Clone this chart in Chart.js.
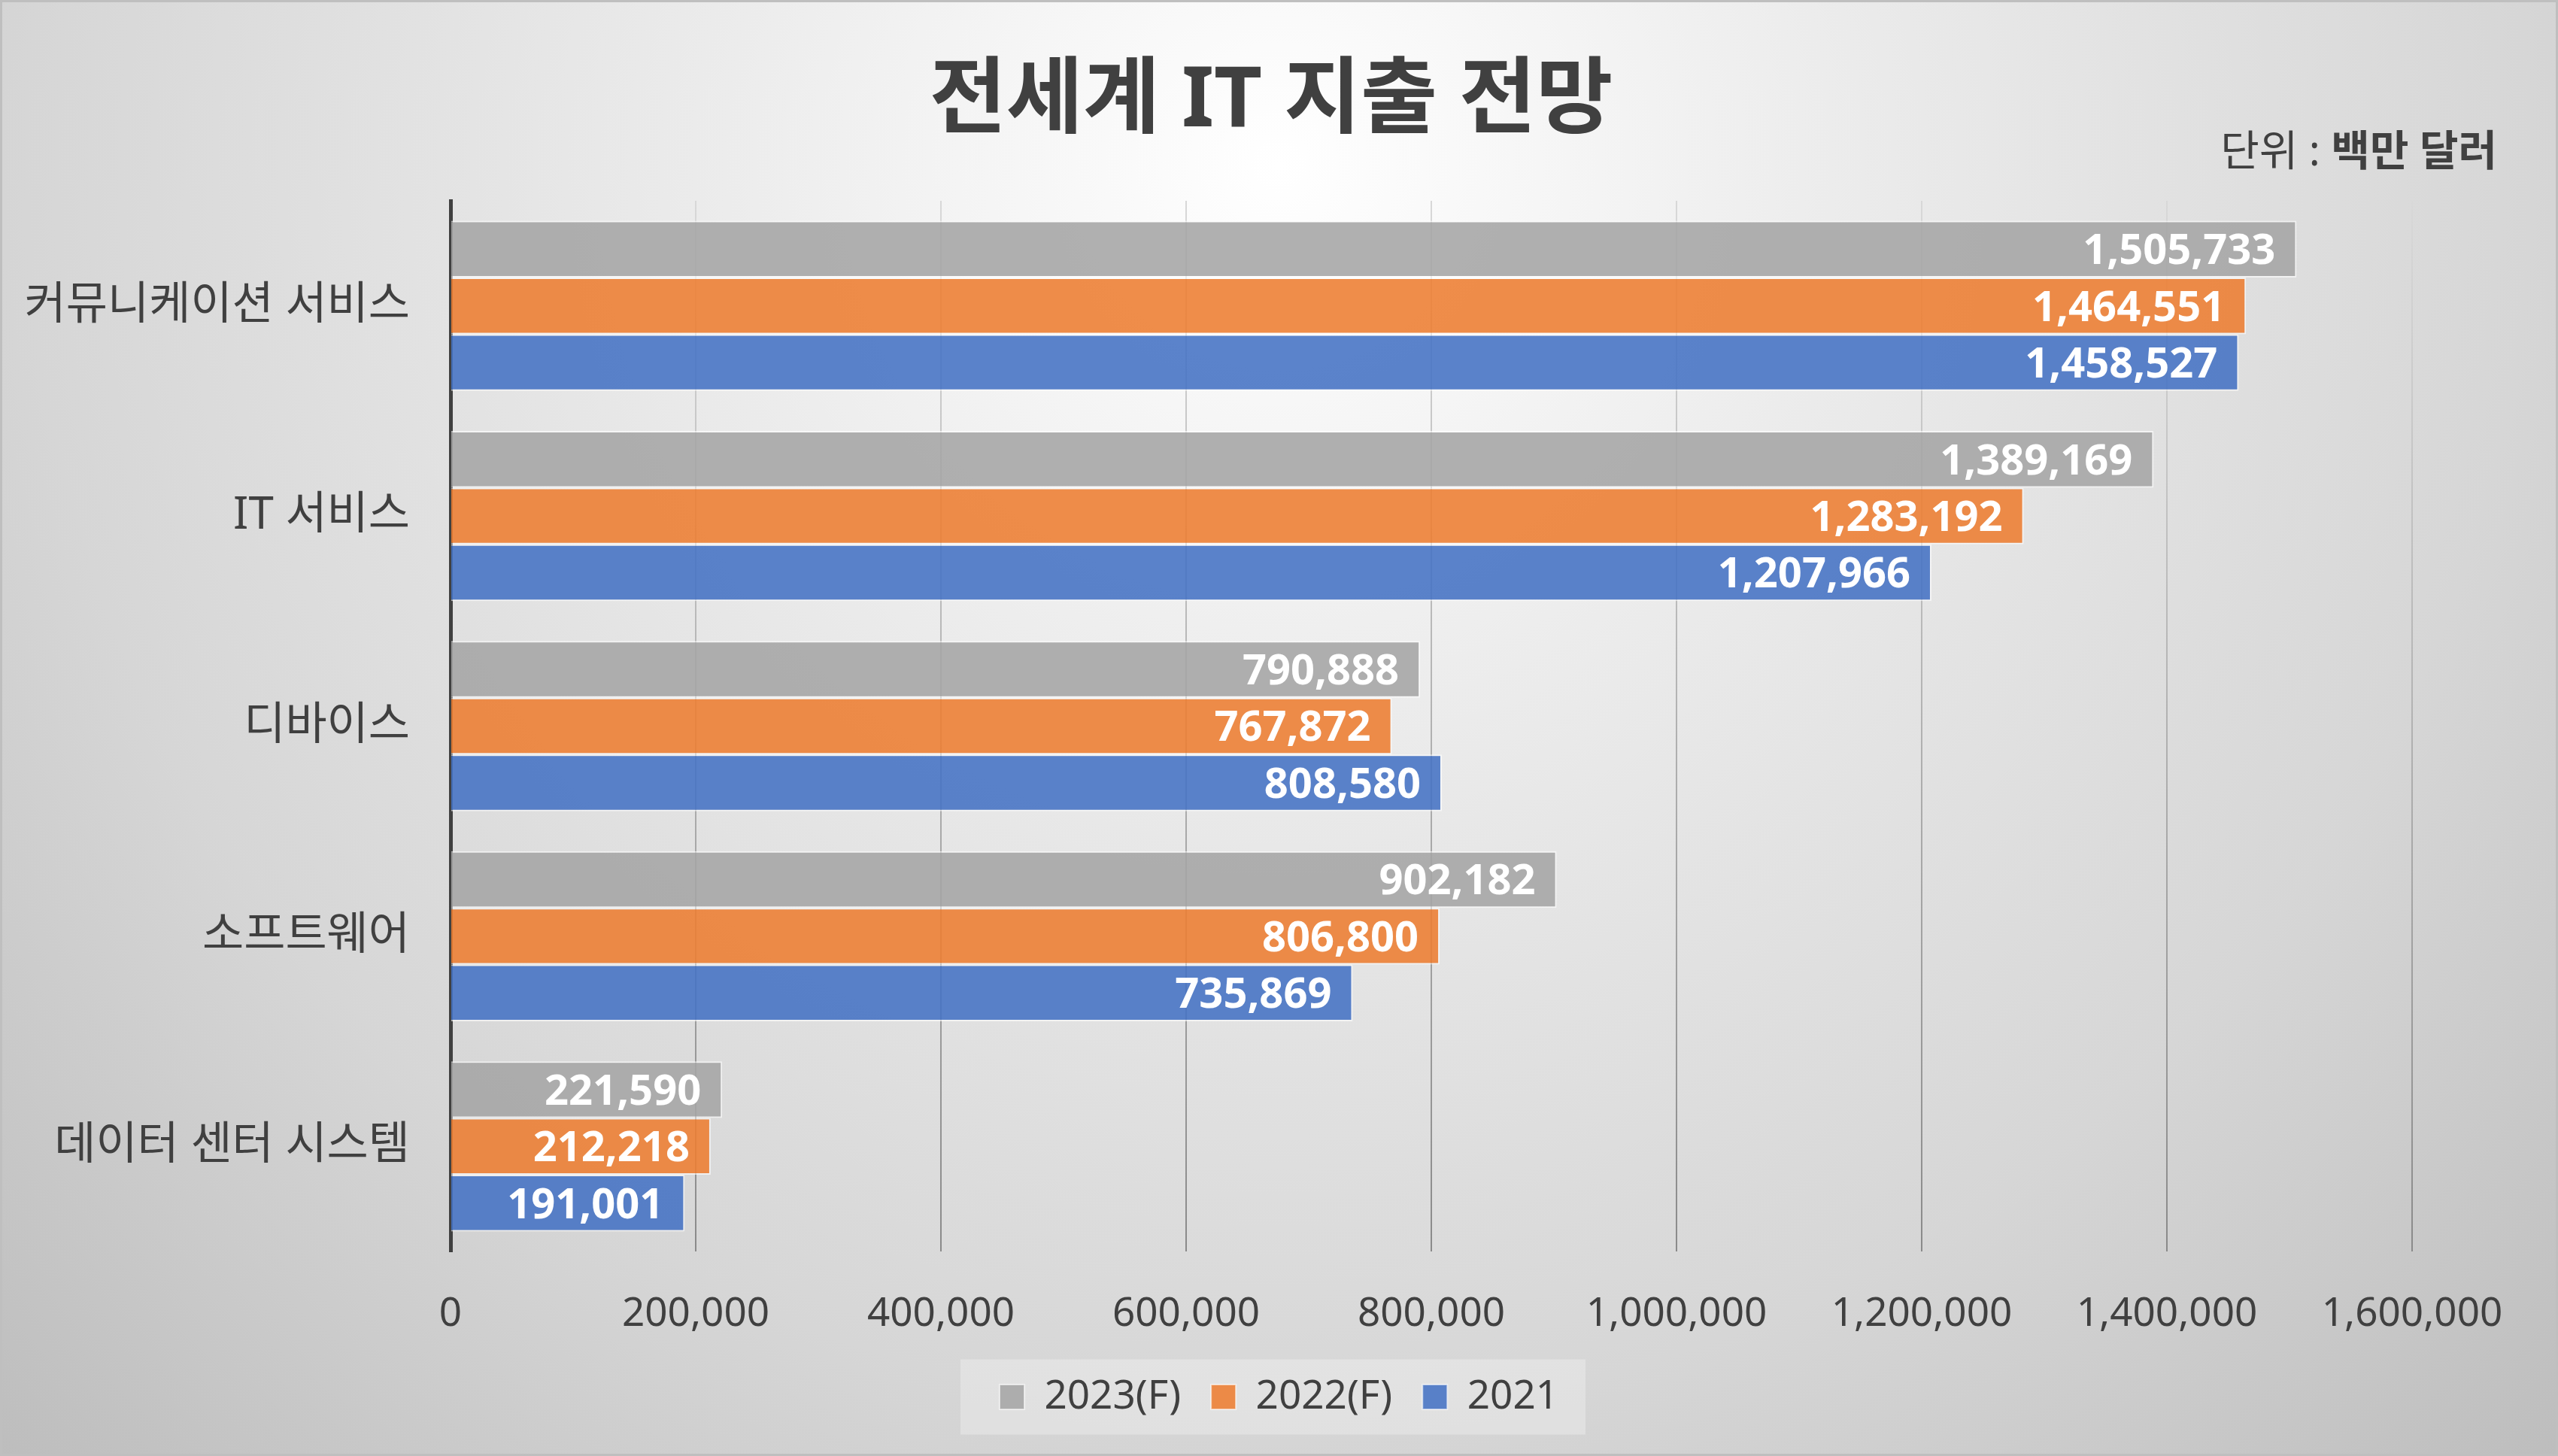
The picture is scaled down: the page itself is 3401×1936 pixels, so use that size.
<!DOCTYPE html>
<html lang="ko">
<head>
  <meta charset="UTF-8">
  <title>전세계 IT 지출 전망</title>
  <script src="https://cdn.jsdelivr.net/npm/chart.js"></script>
  <style>
    body {
      margin: 0;
      padding: 0;
      background: #ffffff;
    }
    #chartBox {
      width: 3401px;
      height: 1936px;
    }
  </style>
</head>
<body>
  <div id="chartBox">
    <canvas id="myChart" width="3401" height="1936"></canvas>
  </div>

  <script>
    const categories = ['커뮤니케이션 서비스', 'IT 서비스', '디바이스', '소프트웨어', '데이터 센터 시스템'];
    const seriesNames = ['2023(F)', '2022(F)', '2021'];
    const values2023 = [1505733, 1389169, 790888, 902182, 221590];
    const values2022 = [1464551, 1283192, 767872, 806800, 212218];
    const values2021 = [1458527, 1207966, 808580, 735869, 191001];
    const xTicks = [0, 200000, 400000, 600000, 800000, 1000000, 1200000, 1400000, 1600000];

    const FONT = '"Noto Sans", "Noto Sans CJK KR", sans-serif';
    const TEXT = '#404040';

    Chart.defaults.font.family = FONT;
    Chart.defaults.color = TEXT;

    // background, outer frame, legend panel, title and unit note
    const backdrop = {
      id: 'backdrop',
      beforeDraw(chart) {
        const ctx = chart.ctx;
        const w = chart.width, h = chart.height;
        ctx.save();
        const g = ctx.createRadialGradient(1700, 220, 0, 1700, 220, 2450);
        g.addColorStop(0, '#ffffff');
        g.addColorStop(0.3, '#ececec');
        g.addColorStop(0.68, '#d6d6d6');
        g.addColorStop(1, '#bcbcbc');
        ctx.fillStyle = g;
        ctx.fillRect(0, 0, w, h);

        const boxes = chart.legend.legendHitBoxes;
        if (boxes && boxes.length) {
          const left = Math.min(...boxes.map(b => b.left)) - 52;
          const right = Math.max(...boxes.map(b => b.left + b.width)) + 36;
          const mid = boxes[0].top + boxes[0].height / 2;
          ctx.fillStyle = 'rgba(255,255,255,0.28)';
          ctx.fillRect(left, mid - 50, right - left, 100);
        }

        ctx.strokeStyle = '#bfbfbf';
        ctx.lineWidth = 6;
        ctx.strokeRect(0, 0, w, h);
        ctx.restore();
      },
      afterDraw(chart) {
        const ctx = chart.ctx;
        ctx.save();
        ctx.fillStyle = TEXT;
        ctx.textBaseline = 'middle';

        ctx.textAlign = 'center';
        ctx.font = 'bold 111px ' + FONT;
        ctx.fillText('전세계 IT 지출 전망', 1690, 136);

        ctx.textAlign = 'right';
        ctx.font = 'bold 56px ' + FONT;
        const bold = '백만 달러';
        ctx.fillText(bold, 3320, 204);
        const bw = ctx.measureText(bold).width;
        ctx.font = '56px ' + FONT;
        ctx.fillText('단위 : ', 3320 - bw, 204);
        ctx.restore();
      }
    };

    // white value labels at the inner end of each bar
    const barLabels = {
      id: 'barLabels',
      afterDatasetsDraw(chart) {
        const ctx = chart.ctx;
        ctx.save();
        ctx.fillStyle = '#ffffff';
        ctx.font = 'bold 56px ' + FONT;
        ctx.textAlign = 'right';
        ctx.textBaseline = 'middle';
        chart.data.datasets.forEach((ds, i) => {
          chart.getDatasetMeta(i).data.forEach((bar, j) => {
            ctx.fillText(ds.data[j].toLocaleString('en-US'), bar.x - 28, bar.y + 4);
          });
        });
        ctx.restore();
      }
    };

    let gridGradient = null;
    function gridColor(c) {
      const area = c.chart.chartArea;
      if (!area) return '#b0b0b0';
      if (!gridGradient) {
        gridGradient = c.chart.ctx.createLinearGradient(0, area.top, 0, area.bottom);
        gridGradient.addColorStop(0, '#d8d8d8');
        gridGradient.addColorStop(1, '#8a8a8a');
      }
      return gridGradient;
    }

    const ctx = document.getElementById('myChart').getContext('2d');
    new Chart(ctx, {
      type: 'bar',
      data: {
        labels: categories,
        datasets: [
          { label: seriesNames[0], data: values2023, backgroundColor: 'rgba(165,165,165,0.88)' },
          { label: seriesNames[1], data: values2022, backgroundColor: 'rgba(237,125,49,0.88)' },
          { label: seriesNames[2], data: values2021, backgroundColor: 'rgba(68,114,196,0.88)' }
        ]
      },
      options: {
        indexAxis: 'y',
        responsive: false,
        devicePixelRatio: 1,
        animation: false,
        categoryPercentage: 0.81,
        barPercentage: 1.0,
        datasets: {
          bar: { borderWidth: 2, borderColor: 'rgba(255,255,255,0.6)' }
        },
        layout: { padding: { left: 0, right: 0, top: 267, bottom: 42 } },
        plugins: {
          title: { display: false },
          legend: {
            position: 'bottom',
            labels: {
              font: { size: 53 },
              color: TEXT,
              boxWidth: 33,
              boxHeight: 33,
              padding: 40
            }
          },
          tooltip: { enabled: false }
        },
        scales: {
          x: {
            min: 0,
            max: 1600000,
            afterBuildTicks(scale) {
              scale.ticks = xTicks.map(v => ({ value: v }));
            },
            afterFit(scale) {
              scale.height = 127;
              scale.paddingRight = 194;
            },
            grid: { color: gridColor, lineWidth: 2, drawTicks: false },
            border: { display: false },
            ticks: {
              padding: 52,
              font: { size: 53 },
              color: TEXT,
              callback: v => v.toLocaleString('en-US')
            }
          },
          y: {
            afterFit(scale) { scale.width = 599; },
            grid: { display: false },
            border: { display: true, color: '#404040', width: 5 },
            ticks: {
              padding: 46,
              font: { size: 60 },
              color: TEXT
            }
          }
        }
      },
      plugins: [backdrop, barLabels]
    });
  </script>
</body>
</html>
